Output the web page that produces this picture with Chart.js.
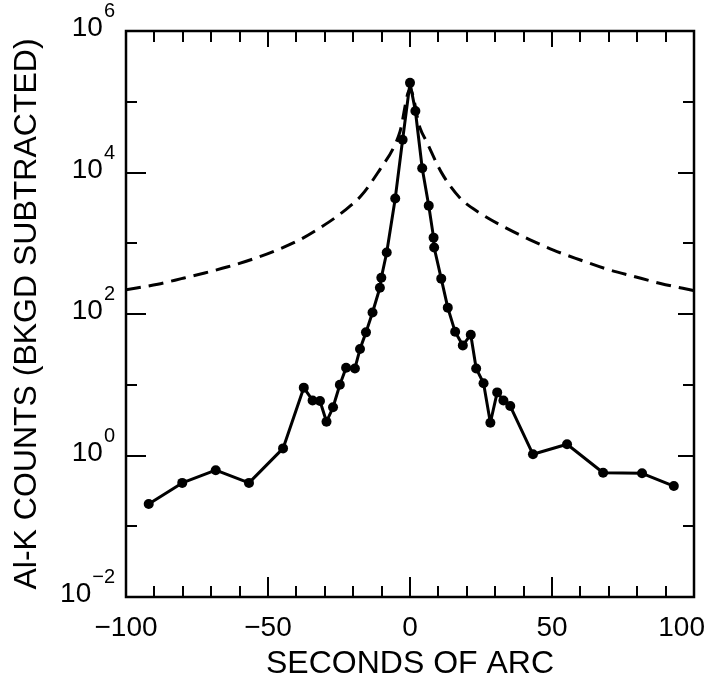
<!DOCTYPE html>
<html>
<head>
<meta charset="utf-8">
<script src="https://cdn.jsdelivr.net/npm/chart.js@4/dist/chart.umd.min.js"></script>
<style>
  html, body { margin: 0; padding: 0; background: #fff; }
  #wrap { width: 709px; height: 677px; }
</style>
</head>
<body>
<div id="wrap"><canvas id="c" width="709" height="677"></canvas></div>
<script>
// ---------------- data ----------------
const ANGLE_MEASURED = [-92, -80.2, -68.4, -56.7, -44.7, -37.4, -34.3, -31.7, -29.4, -27.1,
  -24.7, -22.5, -19.4, -17.6, -15.5, -13.2, -10.6, -10.1, -8.2, -5.2, -2.6, 0,
  1.9, 4.3, 6.6, 8.3, 8.5, 11.0, 13.3, 15.9, 18.6, 21.4, 23.3, 25.9, 28.3, 30.7,
  32.9, 35.3, 43.3, 55.3, 68.0, 81.7, 92.9];
const COUNTS_MEASURED = [0.206, 0.41, 0.62, 0.41, 1.26, 9.1, 6.0, 5.9, 3.0, 4.8,
  10, 17.4, 17, 32, 55, 105, 235, 325, 740, 4300, 29000, 185000,
  74000, 11500, 3400, 1200, 870, 316, 123, 56, 36, 51, 17, 10.5, 2.9, 7.8,
  6.0, 5.0, 1.04, 1.44, 0.57, 0.56, 0.37];

const ANGLE_MODEL = [-100, -88.8, -80.5, -72.3, -64.1, -55.8, -47.6, -38.8, -31.1, -23.5,
  -17.0, -10.6, -5.9, -3.5, 0, 3.5, 5.9, 11.2, 17.6, 24.7, 34.1, 42.3, 50.5,
  60.0, 69.4, 78.8, 88.2, 100];
const COUNTS_MODEL = [220, 264, 316, 380, 465, 590, 780, 1120, 1710, 2800,
  4800, 11000, 22000, 38000, 150000, 43000, 27000, 9800, 4370, 2650, 1620, 1120, 800,
  580, 430, 340, 270, 214];

const X_TICK_VALUES = [-100, -50, 0, 50, 100];
const X_TICK_LABELS = ['\u2212100', '\u221250', '0', '50', '100'];
const X_MINOR_TICKS = [-90, -80, -70, -60, -50, -40, -30, -20, -10, 0, 10, 20, 30, 40, 50, 60, 70, 80, 90];
const Y_TICK_VALUES = [1e-2, 1e0, 1e2, 1e4, 1e6];
const Y_TICK_BASE = '10';
const Y_TICK_EXPONENTS = ['\u22122', '0', '2', '4', '6'];
const Y_MINOR_TICKS = [1e-1, 1e0, 1e1, 1e2, 1e3, 1e4, 1e5];

const X_TITLE = 'SECONDS OF ARC';
const Y_TITLE = 'Al-K COUNTS (BKGD SUBTRACTED)';

// ---------------- chart ----------------
const FONT = "'Liberation Sans', Arial, Helvetica, sans-serif";

const measured = ANGLE_MEASURED.map((a, i) => ({ x: a, y: COUNTS_MEASURED[i] }));
const model = ANGLE_MODEL.map((a, i) => ({ x: a, y: COUNTS_MODEL[i] }));

const frameAndLabels = {
  id: 'frameAndLabels',
  afterDraw(chart) {
    const { ctx, chartArea: a } = chart;
    const xs = chart.scales.x, ys = chart.scales.y;
    ctx.save();
    ctx.strokeStyle = '#000';
    ctx.fillStyle = '#000';
    // inward tick marks
    ctx.lineWidth = 2;
    ctx.beginPath();
    X_MINOR_TICKS.forEach(v => {
      const px = Math.round(xs.getPixelForValue(v));
      const major = X_TICK_VALUES.includes(v);
      ctx.moveTo(px, a.bottom); ctx.lineTo(px, a.bottom - (major ? 20 : 11));
      ctx.moveTo(px, a.top); ctx.lineTo(px, a.top + (major ? 16 : 11));
    });
    Y_MINOR_TICKS.forEach(v => {
      const py = Math.round(ys.getPixelForValue(v));
      const major = Y_TICK_VALUES.includes(v);
      ctx.moveTo(a.left, py); ctx.lineTo(a.left + (major ? 20 : 11), py);
      ctx.moveTo(a.right, py); ctx.lineTo(a.right - (major ? 16 : 11), py);
    });
    ctx.stroke();
    // frame
    ctx.lineWidth = 2.5;
    ctx.strokeRect(a.left, a.top, a.right - a.left, a.bottom - a.top);

    // x tick labels
    ctx.font = '28px ' + FONT;
    ctx.textBaseline = 'alphabetic';
    ctx.textAlign = 'left';
    X_TICK_VALUES.forEach((v, i) => {
      const txt = X_TICK_LABELS[i];
      const w = ctx.measureText(txt).width;
      let left = xs.getPixelForValue(v) - w / 2;
      left = Math.max(2, Math.min(chart.width - 4 - w, left));
      ctx.fillText(txt, left, a.bottom + 39);
    });

    // y tick labels: 10 with superscript exponent
    Y_TICK_VALUES.forEach((v, i) => {
      const py = ys.getPixelForValue(v) - 5;
      const right = a.left - 11;
      ctx.font = '20px ' + FONT;
      const ew = ctx.measureText(Y_TICK_EXPONENTS[i]).width;
      ctx.textAlign = 'left';
      ctx.fillText(Y_TICK_EXPONENTS[i], right - ew, py - 9);
      ctx.font = '28px ' + FONT;
      const bw = ctx.measureText(Y_TICK_BASE).width;
      ctx.fillText(Y_TICK_BASE, right - ew - 1 - bw, py + 10);
    });
    ctx.restore();
  }
};

new Chart(document.getElementById('c'), {
  type: 'line',
  data: {
    datasets: [
      {
        label: 'model',
        data: model,
        borderColor: '#000',
        borderWidth: 3,
        borderDash: [15, 8],
        pointRadius: 0,
        cubicInterpolationMode: 'monotone',
        fill: false,
        order: 2
      },
      {
        label: 'measured',
        data: measured,
        borderColor: '#000',
        borderWidth: 3,
        borderJoinStyle: 'round',
        pointRadius: 5,
        pointBackgroundColor: '#000',
        pointBorderWidth: 0,
        tension: 0,
        fill: false,
        order: 1
      }
    ]
  },
  options: {
    responsive: false,
    animation: false,
    devicePixelRatio: 1,
    layout: { padding: { top: 31, right: 15, left: 0, bottom: 0 } },
    plugins: { legend: { display: false }, tooltip: { enabled: false } },
    scales: {
      x: {
        type: 'linear',
        position: 'bottom',
        min: -100,
        max: 100,
        ticks: { display: false, stepSize: 10 },
        grid: { display: false, drawTicks: false },
        border: { display: false },
        title: {
          display: true,
          text: X_TITLE,
          color: '#000',
          font: { family: FONT, size: 32, lineHeight: 0.8 },
          padding: { top: 0, bottom: 0 }
        },
        afterFit(scale) { scale.height = 80; scale.paddingLeft = 0; scale.paddingRight = 0; }
      },
      y: {
        type: 'logarithmic',
        position: 'left',
        min: 1e-2,
        max: 1e6,
        ticks: { display: false },
        grid: { display: false, drawTicks: false },
        border: { display: false },
        title: {
          display: true,
          text: Y_TITLE,
          color: '#000',
          font: { family: FONT, size: 32, lineHeight: 1.2 },
          padding: { top: 8, bottom: 0 }
        },
        afterFit(scale) { scale.width = 126; scale.paddingTop = 0; scale.paddingBottom = 0; }
      }
    }
  },
  plugins: [frameAndLabels]
});
</script>
</body>
</html>
